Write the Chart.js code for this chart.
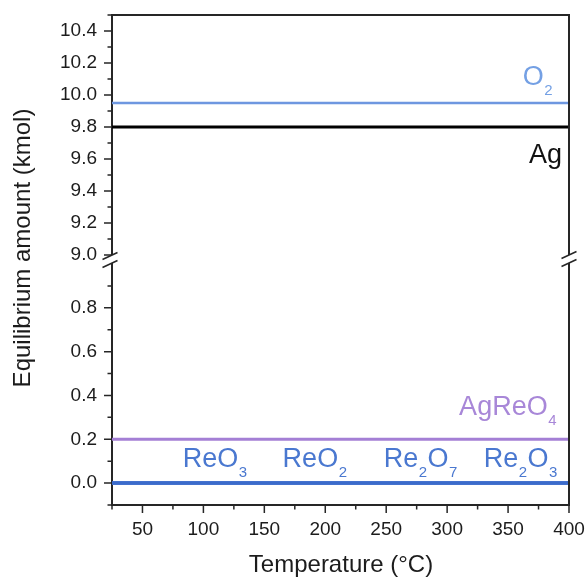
<!DOCTYPE html>
<html>
<head>
<meta charset="utf-8">
<title>Equilibrium amount vs temperature</title>
<script src="https://cdn.jsdelivr.net/npm/chart.js@4.4.1/dist/chart.umd.min.js"></script>
<style>
  html, body { margin: 0; padding: 0; background: #fff; }
  canvas { display: block; }
</style>
</head>
<body>
<canvas id="chart" width="587" height="577"></canvas>
<script>
// equilibrium amounts (kmol) per species over the temperature range (°C)
const temperatures = [25, 50, 75, 100, 125, 150, 175, 200, 225, 250, 275, 300, 325, 350, 375, 400];
const o2Amount     = [9.95, 9.95, 9.95, 9.95, 9.95, 9.95, 9.95, 9.95, 9.95, 9.95, 9.95, 9.95, 9.95, 9.95, 9.95, 9.95];
const agAmount     = [9.8, 9.8, 9.8, 9.8, 9.8, 9.8, 9.8, 9.8, 9.8, 9.8, 9.8, 9.8, 9.8, 9.8, 9.8, 9.8];
const agReO4Amount = [0.2, 0.2, 0.2, 0.2, 0.2, 0.2, 0.2, 0.2, 0.2, 0.2, 0.2, 0.2, 0.2, 0.2, 0.2, 0.2];
const reO3Amount   = [0, 0, 0, 0, 0, 0, 0, 0, 0, 0, 0, 0, 0, 0, 0, 0];
const reO2Amount   = [0, 0, 0, 0, 0, 0, 0, 0, 0, 0, 0, 0, 0, 0, 0, 0];
const re2O7Amount  = [0, 0, 0, 0, 0, 0, 0, 0, 0, 0, 0, 0, 0, 0, 0, 0];
const re2O3Amount  = [0, 0, 0, 0, 0, 0, 0, 0, 0, 0, 0, 0, 0, 0, 0, 0];

// tick values
const xMajor = [50, 100, 150, 200, 250, 300, 350, 400];
const xMinor = [25, 75, 125, 175, 225, 275, 325, 375];
const upperMajor = [9.0, 9.2, 9.4, 9.6, 9.8, 10.0, 10.2, 10.4];
const upperMinor = [9.1, 9.3, 9.5, 9.7, 9.9, 10.1, 10.3, 10.5];
const lowerMajor = [0.0, 0.2, 0.4, 0.6, 0.8];
const lowerMinor = [-0.1, 0.1, 0.3, 0.5, 0.7, 0.9];

const FONT = '"Liberation Sans", Arial, Helvetica, sans-serif';
const INK = '#1c1c1c';
const AXIS = '#262626';
const BLUE = '#3b6bcb';
const LIGHT_BLUE = '#6e97e0';
const PURPLE = '#a47fd5';

// text placed next to the lines, "_n" marks a subscript
const lineLabels = [
  { text: 'O_2',     axis: 'yTop', x: 400, y: 9.95, dx: -16, dy: -18, align: 'right', color: '#74a0e4' },
  { text: 'Ag',      axis: 'yTop', x: 400, y: 9.8,  dx: -7,  dy: 36,  align: 'right', color: '#111111' },
  { text: 'AgReO_4', axis: 'yBot', x: 400, y: 0.2,  dx: -12, dy: -24, align: 'right', color: '#a887d8' },
  { text: 'ReO_3',   axis: 'yBot', x: 83,  y: 0,    dx: 0,   dy: -16, align: 'left',  color: '#4a78d0' },
  { text: 'ReO_2',   axis: 'yBot', x: 165, y: 0,    dx: 0,   dy: -16, align: 'left',  color: '#4a78d0' },
  { text: 'Re_2O_7', axis: 'yBot', x: 248, y: 0,    dx: 0,   dy: -16, align: 'left',  color: '#4a78d0' },
  { text: 'Re_2O_3', axis: 'yBot', x: 330, y: 0,    dx: 0,   dy: -16, align: 'left',  color: '#4a78d0' }
];

function points(values) {
  return temperatures.map((t, i) => ({ x: t, y: values[i] }));
}

function series(label, values, color, axis, width) {
  return {
    label: label,
    data: points(values),
    yAxisID: axis,
    borderColor: color,
    borderWidth: width,
    pointRadius: 0,
    fill: false,
    tension: 0
  };
}

function isMajor(list, v) {
  return list.some(m => Math.abs(m - v) < 1e-6);
}

function tickSetter(major, minor) {
  return function (scale) {
    scale.ticks = major.concat(minor).sort((a, b) => a - b).map(v => ({ value: v }));
  };
}

// fixed axis size, no extra room for overhanging labels
function fixSize(prop, size) {
  return function (scale) {
    scale[prop] = size;
    scale.paddingLeft = scale.paddingRight = scale.paddingTop = scale.paddingBottom = 0;
  };
}

function drawFormula(ctx, text, x, y, align, color) {
  const parts = text.split(/_(\d+)/);
  const mainFont = '27px ' + FONT;
  const subFont = '15px ' + FONT;
  const widths = parts.map((p, i) => {
    ctx.font = i % 2 ? subFont : mainFont;
    return ctx.measureText(p).width + (i % 2 ? 1 : 0);
  });
  const total = widths.reduce((a, b) => a + b, 0);
  let cx = align === 'right' ? x - total : x;
  ctx.fillStyle = color;
  ctx.textAlign = 'left';
  ctx.textBaseline = 'alphabetic';
  parts.forEach((p, i) => {
    ctx.font = i % 2 ? subFont : mainFont;
    ctx.fillText(p, cx + (i % 2 ? 0.5 : 0), i % 2 ? y + 10 : y);
    cx += widths[i];
  });
}

function drawBreak(ctx, x, c) {
  const hx = 7.5, hy = 3.5, gap = 4;
  ctx.fillStyle = '#ffffff';
  ctx.beginPath();
  ctx.moveTo(x - hx, c - gap + hy);
  ctx.lineTo(x + hx, c - gap - hy);
  ctx.lineTo(x + hx, c + gap - hy);
  ctx.lineTo(x - hx, c + gap + hy);
  ctx.closePath();
  ctx.fill();
  ctx.strokeStyle = AXIS;
  ctx.lineWidth = 1.5;
  ctx.beginPath();
  ctx.moveTo(x - hx, c - gap + hy);
  ctx.lineTo(x + hx, c - gap - hy);
  ctx.moveTo(x - hx, c + gap + hy);
  ctx.lineTo(x + hx, c + gap - hy);
  ctx.stroke();
}

const decorations = {
  id: 'decorations',
  afterDatasetsDraw(chart) {
    const ctx = chart.ctx;
    const xs = chart.scales.x;
    ctx.save();
    lineLabels.forEach(l => {
      const px = xs.getPixelForValue(l.x) + l.dx;
      const py = chart.scales[l.axis].getPixelForValue(l.y) + l.dy;
      drawFormula(ctx, l.text, px, py, l.align, l.color);
    });
    ctx.restore();
  },
  afterDraw(chart) {
    const ctx = chart.ctx;
    const area = chart.chartArea;
    const xs = chart.scales.x;
    const top = chart.scales.yTop;
    const bot = chart.scales.yBot;
    ctx.save();
    ctx.strokeStyle = AXIS;
    ctx.lineWidth = 1.5;
    ctx.beginPath();
    // tick marks, outward
    xMajor.forEach(v => { const p = xs.getPixelForValue(v); ctx.moveTo(p, area.bottom); ctx.lineTo(p, area.bottom + 8); });
    xMinor.forEach(v => { const p = xs.getPixelForValue(v); ctx.moveTo(p, area.bottom); ctx.lineTo(p, area.bottom + 4.5); });
    [[top, upperMajor, 8], [top, upperMinor, 4.5], [bot, lowerMajor, 8], [bot, lowerMinor, 4.5]].forEach(([s, list, len]) => {
      list.forEach(v => { const p = s.getPixelForValue(v); ctx.moveTo(area.left - len, p); ctx.lineTo(area.left, p); });
    });
    ctx.stroke();

    // closing frame on top and right
    ctx.lineWidth = 2;
    ctx.beginPath();
    ctx.moveTo(area.left - 1, area.top);
    ctx.lineTo(area.right, area.top);
    ctx.lineTo(area.right, area.bottom + 1);
    ctx.stroke();

    // axis breaks between the two panels
    const c = top.bottom + 5;
    drawBreak(ctx, area.left - 2, c);
    drawBreak(ctx, area.right, c - 1);

    // axis titles
    ctx.fillStyle = INK;
    ctx.font = '24px ' + FONT;
    ctx.textAlign = 'center';
    ctx.textBaseline = 'alphabetic';
    ctx.fillText('Temperature (°C)', (area.left + area.right) / 2 + 0.5, 571.5);
    ctx.translate(29.5, 248);
    ctx.rotate(-Math.PI / 2);
    ctx.fillText('Equilibrium amount (kmol)', 0, 0);
    ctx.restore();
  }
};

const axisCommon = {
  type: 'linear',
  grid: { display: true, drawOnChartArea: false, drawTicks: false },
  border: { display: true, color: AXIS, width: 2 },
  ticks: {
    autoSkip: false,
    color: INK,
    font: { family: FONT, size: 19 }
  }
};

new Chart(document.getElementById('chart'), {
  type: 'line',
  data: {
    datasets: [
      series('Re2O3', re2O3Amount, BLUE, 'yBot', 3),
      series('Re2O7', re2O7Amount, BLUE, 'yBot', 3),
      series('ReO2', reO2Amount, BLUE, 'yBot', 3),
      series('ReO3', reO3Amount, BLUE, 'yBot', 3),
      series('AgReO4', agReO4Amount, PURPLE, 'yBot', 3),
      series('Ag', agAmount, '#000000', 'yTop', 3),
      series('O2', o2Amount, LIGHT_BLUE, 'yTop', 2.5)
    ]
  },
  options: {
    responsive: false,
    animation: false,
    layout: { padding: { top: 15, right: 18, left: 0, bottom: 0 } },
    plugins: { legend: { display: false }, tooltip: { enabled: false } },
    scales: {
      x: {
        ...axisCommon,
        position: 'bottom',
        min: 25,
        max: 400,
        afterBuildTicks: tickSetter(xMajor, xMinor),
        afterFit: fixSize('height', 72),
        ticks: {
          ...axisCommon.ticks,
          maxRotation: 0,
          padding: 13,
          callback: v => isMajor(xMajor, v) ? String(v) : ''
        }
      },
      // lower panel is listed first so the stack puts it underneath
      yBot: {
        ...axisCommon,
        position: 'left',
        stack: 'amount',
        stackWeight: 250,
        min: -0.1,
        max: 1.041,
        afterBuildTicks: tickSetter(lowerMajor, lowerMinor),
        afterFit: fixSize('width', 112),
        ticks: {
          ...axisCommon.ticks,
          padding: 15,
          callback: v => isMajor(lowerMajor, v) ? v.toFixed(1) : ''
        }
      },
      yTop: {
        ...axisCommon,
        position: 'left',
        stack: 'amount',
        stackWeight: 240,
        min: 9.0,
        max: 10.5,
        afterBuildTicks: tickSetter(upperMajor, upperMinor),
        afterFit: fixSize('width', 112),
        ticks: {
          ...axisCommon.ticks,
          padding: 15,
          callback: v => isMajor(upperMajor, v) ? v.toFixed(1) : ''
        }
      }
    }
  },
  plugins: [decorations]
});
</script>
</body>
</html>
